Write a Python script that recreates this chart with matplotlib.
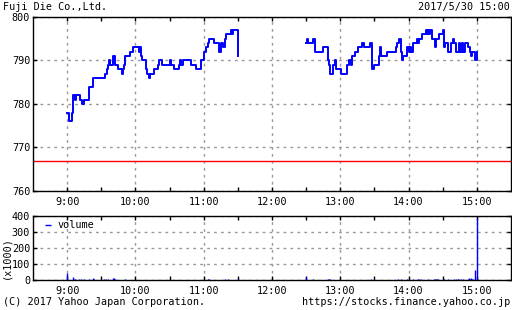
import matplotlib
matplotlib.use("Agg")
import matplotlib.pyplot as plt

# price change points: minutes after 9:00, price (yen)
t_am = [0, 2, 4, 5, 7, 8, 11, 13, 15, 19, 23, 33, 35, 36, 37, 38, 40, 42, 45, 48,
        49, 50, 51, 55, 58, 63, 64, 65, 66, 69, 70, 72, 73, 76, 80, 81, 83, 90, 91, 94,
        98, 99, 100, 102, 109, 113, 118, 120, 122, 124, 125, 129, 133, 135, 137, 139,
        140, 144, 145, 146, 150]
p_am = [778, 776, 778, 782, 781, 782, 781, 780, 781, 784, 786, 787, 788, 789, 790, 789, 791, 789, 788, 787,
        788, 789, 791, 792, 793, 792, 793, 791, 790, 788, 787, 786, 787, 788, 789, 790, 789, 790, 789, 788,
        789, 790, 789, 790, 789, 788, 790, 792, 793, 794, 795, 794, 792, 794, 793, 795,
        796, 797, 796, 797, 791]

t_pm = [210, 211, 212, 216, 218, 225, 229, 230, 231, 234, 235, 236, 241, 246, 248, 249, 250, 253, 256, 259,
        261, 266, 268, 270, 274, 275, 276, 281, 289, 290, 292, 293, 294, 295, 299, 300, 301, 302, 304, 307,
        308, 309, 312, 315, 316, 317, 318, 319, 321, 323, 324, 327, 330, 331, 332, 335, 337, 339, 340, 342,
        344, 345, 347, 348, 350, 352, 354, 355, 356, 358, 360]
p_pm = [794, 795, 794, 795, 792, 793, 790, 789, 787, 789, 790, 788, 787, 789, 790, 789, 791, 792, 793, 794,
        793, 794, 788, 789, 791, 793, 791, 792, 793, 794, 795, 792, 790, 791, 793, 792, 793, 792, 794, 795,
        794, 795, 796, 797, 796, 797, 796, 797, 795, 793, 795, 796, 797, 793, 794, 792, 794, 795, 794, 792,
        794, 792, 794, 792, 794, 793, 792, 791, 792, 790, 792]

prev_close = 767

# volume (x1000 shares) per minute
vol_t = [0, 5, 6, 7, 10, 12, 15, 19, 23, 24, 28, 32, 34, 36, 40, 41, 42, 46, 51, 55, 58, 62, 66, 70,
         74, 78, 83, 88, 92, 96, 101, 106, 112, 118, 124, 125, 130, 139, 141, 146, 150,
         210, 214, 216, 222, 229, 230, 231, 236, 242, 248, 254, 260, 267, 272, 278, 284, 291, 293,
         299, 304, 308, 309, 311, 317, 322, 323, 324, 325, 326, 331, 335, 340, 342, 343, 344, 346,
         348, 350, 352, 353, 354, 355, 356, 357, 358, 360]
vol_v = [46, 18, 8, 8, 5, 5, 5, 6, 12, 6, 2, 5, 5, 5, 10, 10, 6, 2, 6, 2, 2, 2, 2, 3,
         2, 2, 2, 3, 2, 2, 2, 2, 3, 2, 6, 6, 2, 6, 6, 2, 4,
         19, 3, 6, 2, 6, 6, 6, 2, 2, 2, 2, 2, 6, 2, 2, 2, 6, 6,
         9, 6, 6, 6, 6, 6, 6, 6, 6, 6, 6, 8, 6, 6, 9, 9, 9, 6,
         9, 3, 9, 12, 9, 12, 9, 6, 62, 390]

hour_ticks = [9, 10, 11, 12, 13, 14, 15]
hour_labels = ["9:00", "10:00", "11:00", "12:00", "13:00", "14:00", "15:00"]
price_ticks = [760, 770, 780, 790, 800]
vol_ticks = [0, 100, 200, 300, 400]

assert len(t_am) == len(p_am) and len(t_pm) == len(p_pm) and len(vol_t) == len(vol_v)

plt.rcParams['font.family'] = ['DejaVu Sans Mono']
FS = 7.3
BLUE = "#0000ff"
GRID = dict(color="#999999", linestyle=(0, (2, 3)), linewidth=1.0)

fig = plt.figure(figsize=(5.12, 3.10), dpi=100)
ax = fig.add_axes([33 / 512, 1 - 191 / 310, 478 / 512, 174 / 310])
axv = fig.add_axes([33 / 512, 1 - 280 / 310, 478 / 512, 64 / 310])


def to_h(ts):
    return [9 + m / 60 for m in ts]


ax.step(to_h(t_am), p_am, where="post", color=BLUE, lw=1.4)
ax.step(to_h(t_pm), p_pm, where="post", color=BLUE, lw=1.4)
ax.axhline(prev_close, color="#ff0000", lw=1.0)

axv.vlines(to_h(vol_t), 0, vol_v, color=BLUE, lw=1.0, label="volume")

for a in (ax, axv):
    a.set_xlim(8.5, 15.5)
    a.set_xticks(hour_ticks)
    a.set_xticklabels(hour_labels)
    a.set_xticks([h + 0.5 for h in hour_ticks[:-1]], minor=True)
    a.grid(True, **GRID)
    a.set_axisbelow(True)
    a.tick_params(which="both", direction="in", top=True, right=True, labelsize=FS,
                  length=3, width=1, color="black")
    a.tick_params(axis="x", pad=4)
    a.tick_params(axis="y", pad=2)
    for s in a.spines.values():
        s.set_color("black")
        s.set_linewidth(1.0)

ax.set_ylim(760, 800)
ax.set_yticks(price_ticks)
axv.set_ylim(0, 400)
axv.set_yticks(vol_ticks)
fig.text(6 / 512, 1 - 258 / 310, "(x1000)", fontsize=FS, rotation=90, ha="center", va="center")

axv.legend(loc="upper left", bbox_to_anchor=(0.0126, 1.03), frameon=False, fontsize=FS,
           handlelength=0.6, handletextpad=0.6, borderaxespad=0.2)

fig.text(3 / 512, 1 - 7 / 310, "Fuji Die Co.,Ltd.", fontsize=FS, ha="left", va="center")
fig.text(510 / 512, 1 - 7 / 310, "2017/5/30 15:00", fontsize=FS, ha="right", va="center")
fig.text(3 / 512, 1 - 302 / 310, "(C) 2017 Yahoo Japan Corporation.", fontsize=FS, ha="left", va="center")
fig.text(510 / 512, 1 - 302 / 310, "https://stocks.finance.yahoo.co.jp", fontsize=FS, ha="right", va="center")

fig.savefig("out.png", dpi=100)
